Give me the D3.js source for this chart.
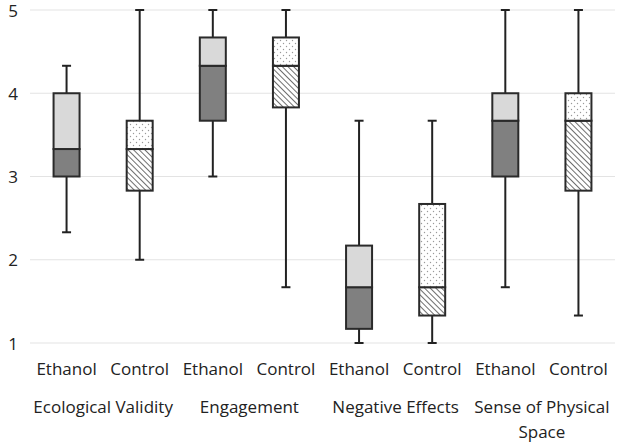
<!DOCTYPE html>
<html><head><meta charset="utf-8">
<script src="https://cdn.jsdelivr.net/npm/d3@7"></script>
<style>body{margin:0;background:#fff}svg{display:block}</style>
</head><body><svg id="c" width="619" height="442"></svg>
<script>
const groups = ["Ecological Validity","Engagement","Negative Effects","Sense of Physical Space"];
const conditions = ["Ethanol","Control"];
const yTicks = [1,2,3,4,5];
// order: EV-Eth, EV-Ctl, Eng-Eth, Eng-Ctl, Neg-Eth, Neg-Ctl, Sense-Eth, Sense-Ctl
const mins    = [2.33, 2.00, 3.00, 1.67, 1.00, 1.00, 1.67, 1.33];
const q1s     = [3.00, 2.83, 3.67, 3.83, 1.17, 1.33, 3.00, 2.83];
const medians = [3.33, 3.33, 4.33, 4.33, 1.67, 1.67, 3.67, 3.67];
const q3s     = [4.00, 3.67, 4.67, 4.67, 2.17, 2.67, 4.00, 4.00];
const maxs    = [4.33, 5.00, 5.00, 5.00, 3.67, 3.67, 5.00, 5.00];

const svg = d3.select("#c");
const font = "'Open Sans', sans-serif";
const defs = svg.append("defs");
const hatch = defs.append("pattern").attr("id","hatch").attr("patternUnits","userSpaceOnUse")
  .attr("width",4).attr("height",4).attr("patternTransform","rotate(-45)");
hatch.append("rect").attr("width",4).attr("height",4).attr("fill","#fff");
hatch.append("line").attr("x1",0).attr("y1",0).attr("x2",0).attr("y2",4).attr("stroke","#555").attr("stroke-width",1.7);
const dots = defs.append("pattern").attr("id","dots").attr("patternUnits","userSpaceOnUse")
  .attr("width",6).attr("height",6);
dots.append("rect").attr("width",6).attr("height",6).attr("fill","#fff");
dots.append("circle").attr("cx",1.5).attr("cy",1.5).attr("r",0.7).attr("fill","#999");
dots.append("circle").attr("cx",4.5).attr("cy",4.5).attr("r",0.7).attr("fill","#999");

const keys = d3.range(8);
const x = d3.scaleBand().domain(keys).range([30,615]).padding(0);
const y = d3.scaleLinear().domain([1,5]).range([343,10]);

// gridlines
svg.append("g").selectAll("line").data(yTicks).join("line")
  .attr("x1",30).attr("x2",615).attr("y1",d=>y(d)).attr("y2",d=>y(d))
  .attr("stroke","#e3e3e3").attr("stroke-width",1.2);

// y axis labels
const yAxis = d3.axisLeft(y).tickValues(yTicks).tickSize(0).tickPadding(0).tickFormat(d3.format("d"));
const ga = svg.append("g").attr("transform","translate(13,0)").call(yAxis);
ga.select(".domain").remove();
ga.selectAll("text").attr("font-family",font).attr("font-size",17).attr("fill","#222").attr("text-anchor","middle").attr("dy","0.36em");

const bw = 26, cap = 9;
const g = svg.append("g");
keys.forEach(i=>{
  const cx = x(i)+x.bandwidth()/2;
  const eth = i%2===0;
  g.append("line").attr("x1",cx).attr("x2",cx).attr("y1",y(maxs[i])).attr("y2",y(q3s[i])).attr("stroke","#222").attr("stroke-width",2);
  g.append("line").attr("x1",cx).attr("x2",cx).attr("y1",y(q1s[i])).attr("y2",y(mins[i])).attr("stroke","#222").attr("stroke-width",2);
  g.append("line").attr("x1",cx-cap/2).attr("x2",cx+cap/2).attr("y1",y(maxs[i])).attr("y2",y(maxs[i])).attr("stroke","#222").attr("stroke-width",2);
  g.append("line").attr("x1",cx-cap/2).attr("x2",cx+cap/2).attr("y1",y(mins[i])).attr("y2",y(mins[i])).attr("stroke","#222").attr("stroke-width",2);
  g.append("rect").attr("x",cx-bw/2).attr("width",bw).attr("y",y(medians[i])).attr("height",y(q1s[i])-y(medians[i]))
    .attr("fill",eth?"#808080":"url(#hatch)").attr("stroke","#2a2a2a").attr("stroke-width",2);
  g.append("rect").attr("x",cx-bw/2).attr("width",bw).attr("y",y(q3s[i])).attr("height",y(medians[i])-y(q3s[i]))
    .attr("fill",eth?"#d9d9d9":"url(#dots)").attr("stroke","#2a2a2a").attr("stroke-width",2);
});

const xl = svg.append("g").attr("font-family",font).attr("font-size",17).attr("fill","#222").attr("text-anchor","middle");
keys.forEach(i=>{
  xl.append("text").attr("x",x(i)+x.bandwidth()/2).attr("y",375).text(conditions[i%2]);
});
groups.forEach((gname,j)=>{
  const cx = x(2*j+1);
  if (gname === "Sense of Physical Space") {
    xl.append("text").attr("x",cx).attr("y",413).text("Sense of Physical");
    xl.append("text").attr("x",cx).attr("y",438).text("Space");
  } else {
    xl.append("text").attr("x",cx).attr("y",413).text(gname);
  }
});
</script></body></html>
